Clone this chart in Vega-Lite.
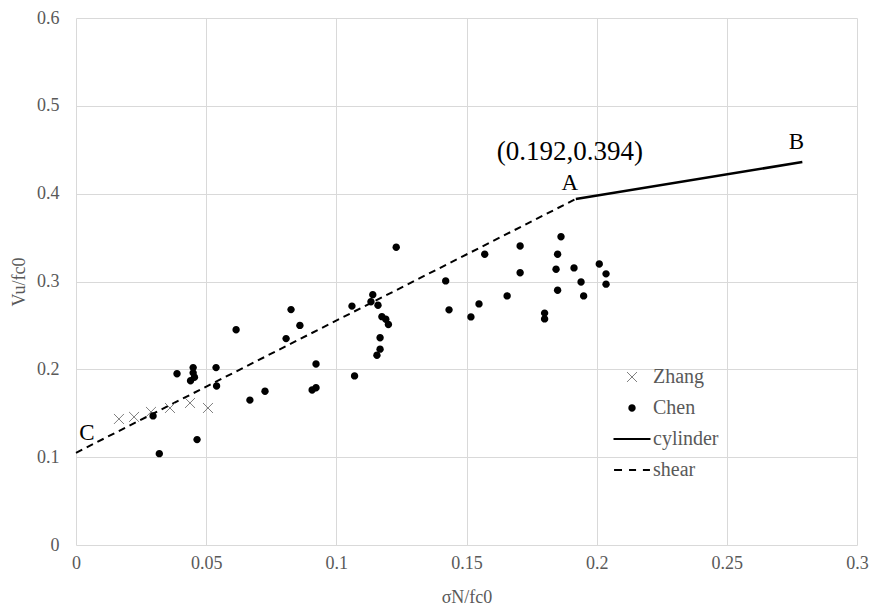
{
  "$schema": "https://vega.github.io/schema/vega-lite/v6.json",
  "width": 781,
  "height": 527,
  "autosize": {"type": "none"},
  "padding": {"left": 76, "top": 18, "right": 19, "bottom": 66},
  "background": "white",
  "config": {"view": {"stroke": null}, "font": "Liberation Serif"},
  "datasets": {
    "pts": [
      {"x": 0.0165, "y": 0.1435, "series": "Zhang"},
      {"x": 0.0223, "y": 0.1458, "series": "Zhang"},
      {"x": 0.0288, "y": 0.1515, "series": "Zhang"},
      {"x": 0.0361, "y": 0.156, "series": "Zhang"},
      {"x": 0.0438, "y": 0.1617, "series": "Zhang"},
      {"x": 0.0507, "y": 0.156, "series": "Zhang"},
      {"x": 0.0615, "y": 0.245, "series": "Chen"},
      {"x": 0.045, "y": 0.202, "series": "Chen"},
      {"x": 0.045, "y": 0.196, "series": "Chen"},
      {"x": 0.0455, "y": 0.191, "series": "Chen"},
      {"x": 0.044, "y": 0.187, "series": "Chen"},
      {"x": 0.0388, "y": 0.195, "series": "Chen"},
      {"x": 0.0538, "y": 0.202, "series": "Chen"},
      {"x": 0.054, "y": 0.181, "series": "Chen"},
      {"x": 0.0668, "y": 0.165, "series": "Chen"},
      {"x": 0.0296, "y": 0.147, "series": "Chen"},
      {"x": 0.0465, "y": 0.12, "series": "Chen"},
      {"x": 0.032, "y": 0.104, "series": "Chen"},
      {"x": 0.123, "y": 0.339, "series": "Chen"},
      {"x": 0.114, "y": 0.285, "series": "Chen"},
      {"x": 0.1133, "y": 0.277, "series": "Chen"},
      {"x": 0.116, "y": 0.273, "series": "Chen"},
      {"x": 0.106, "y": 0.272, "series": "Chen"},
      {"x": 0.1175, "y": 0.26, "series": "Chen"},
      {"x": 0.119, "y": 0.257, "series": "Chen"},
      {"x": 0.12, "y": 0.251, "series": "Chen"},
      {"x": 0.1168, "y": 0.236, "series": "Chen"},
      {"x": 0.1168, "y": 0.223, "series": "Chen"},
      {"x": 0.1156, "y": 0.216, "series": "Chen"},
      {"x": 0.0826, "y": 0.268, "series": "Chen"},
      {"x": 0.086, "y": 0.25, "series": "Chen"},
      {"x": 0.0807, "y": 0.235, "series": "Chen"},
      {"x": 0.0726, "y": 0.175, "series": "Chen"},
      {"x": 0.0922, "y": 0.206, "series": "Chen"},
      {"x": 0.0922, "y": 0.179, "series": "Chen"},
      {"x": 0.0907, "y": 0.1765, "series": "Chen"},
      {"x": 0.107, "y": 0.1925, "series": "Chen"},
      {"x": 0.1863, "y": 0.351, "series": "Chen"},
      {"x": 0.1706, "y": 0.3405, "series": "Chen"},
      {"x": 0.157, "y": 0.331, "series": "Chen"},
      {"x": 0.185, "y": 0.331, "series": "Chen"},
      {"x": 0.142, "y": 0.3007, "series": "Chen"},
      {"x": 0.1706, "y": 0.31, "series": "Chen"},
      {"x": 0.1844, "y": 0.314, "series": "Chen"},
      {"x": 0.1913, "y": 0.3155, "series": "Chen"},
      {"x": 0.201, "y": 0.32, "series": "Chen"},
      {"x": 0.2036, "y": 0.3087, "series": "Chen"},
      {"x": 0.194, "y": 0.2995, "series": "Chen"},
      {"x": 0.2036, "y": 0.297, "series": "Chen"},
      {"x": 0.185, "y": 0.29, "series": "Chen"},
      {"x": 0.195, "y": 0.2836, "series": "Chen"},
      {"x": 0.1656, "y": 0.2836, "series": "Chen"},
      {"x": 0.1433, "y": 0.2677, "series": "Chen"},
      {"x": 0.1548, "y": 0.2745, "series": "Chen"},
      {"x": 0.1517, "y": 0.2597, "series": "Chen"},
      {"x": 0.18, "y": 0.264, "series": "Chen"},
      {"x": 0.18, "y": 0.2574, "series": "Chen"}
    ],
    "shear": [{"x": 0, "y": 0.105}, {"x": 0.192, "y": 0.394}],
    "cylinder": [{"x": 0.192, "y": 0.394}, {"x": 0.279, "y": 0.436}],
    "labels": [
      {"x": 0.192, "y": 0.394, "label": "A"},
      {"x": 0.192, "y": 0.394, "label": "(0.192,0.394)"},
      {"x": 0.279, "y": 0.436, "label": "B"},
      {"x": 0, "y": 0.105, "label": "C"}
    ]
  },
  "encoding": {
    "x": {
      "field": "x",
      "type": "quantitative",
      "scale": {"domain": [0, 0.3], "nice": false, "zero": false},
      "axis": {
        "values": [0, 0.05, 0.1, 0.15, 0.2, 0.25, 0.3],
        "format": "~g",
        "title": "σN/fc0",
        "grid": true,
        "gridColor": "#d9d9d9",
        "domain": false,
        "ticks": false,
        "labelFont": "Liberation Serif",
        "labelFontSize": 18,
        "labelColor": "#595959",
        "labelPadding": 9,
        "labelFlush": false,
        "titleFont": "Liberation Serif",
        "titleFontSize": 18,
        "titleFontWeight": "normal",
        "titleColor": "#595959",
        "titlePadding": 16
      }
    },
    "y": {
      "field": "y",
      "type": "quantitative",
      "scale": {"domain": [0, 0.6], "nice": false, "zero": false},
      "axis": {
        "values": [0, 0.1, 0.2, 0.3, 0.4, 0.5, 0.6],
        "format": "~g",
        "title": "Vu/fc0",
        "grid": true,
        "gridColor": "#d9d9d9",
        "domain": false,
        "ticks": false,
        "labelFont": "Liberation Serif",
        "labelFontSize": 18,
        "labelColor": "#595959",
        "labelPadding": 17,
        "labelFlush": false,
        "titleFont": "Liberation Serif",
        "titleFontSize": 18,
        "titleFontWeight": "normal",
        "titleColor": "#595959",
        "titlePadding": 8
      }
    }
  },
  "layer": [
    {
      "data": {"name": "shear"},
      "mark": {"type": "line", "color": "black", "strokeWidth": 2, "strokeDash": [7, 5]}
    },
    {
      "data": {"name": "cylinder"},
      "mark": {"type": "line", "color": "black", "strokeWidth": 2.5}
    },
    {
      "data": {"name": "pts"},
      "mark": {"type": "point", "opacity": 1, "size": 1369, "strokeWidth": 1},
      "encoding": {
        "shape": {
          "field": "series",
          "type": "nominal",
          "scale": {
            "domain": ["Zhang", "Chen", "cylinder", "shear"],
            "range": [
              "M-0.27,-0.27L0.27,0.27M-0.27,0.27L0.27,-0.27",
              "M-0.2,0A0.2,0.2 0 1,0 0.2,0A0.2,0.2 0 1,0 -0.2,0Z",
              "M-1,-0.06L1,-0.06L1,0.06L-1,0.06Z",
              "M-0.97,-0.055L-0.54,-0.055L-0.54,0.055L-0.97,0.055ZM-0.16,-0.055L0.22,-0.055L0.22,0.055L-0.16,0.055ZM0.59,-0.055L0.97,-0.055L0.97,0.055L0.59,0.055Z"
            ]
          },
          "legend": {
            "title": null,
            "orient": "none",
            "legendX": 537,
            "legendY": 340,
            "padding": 0,
            "symbolSize": 1369,
            "symbolStrokeWidth": 1,
            "labelFont": "Liberation Serif",
            "labelFontSize": 20,
            "labelColor": "#595959",
            "labelOffset": 2,
            "rowPadding": 2,
            "symbolOpacity": 1
          }
        },
        "fill": {
          "field": "series",
          "type": "nominal",
          "scale": {"domain": ["Zhang", "Chen", "cylinder", "shear"], "range": ["transparent", "black", "black", "black"]}
        },
        "stroke": {
          "field": "series",
          "type": "nominal",
          "scale": {"domain": ["Zhang", "Chen", "cylinder", "shear"], "range": ["#7f7f7f", "transparent", "transparent", "transparent"]}
        }
      }
    },
    {
      "data": {"name": "labels"},
      "transform": [{"filter": "datum.label === 'A'"}],
      "mark": {"type": "text", "font": "Liberation Serif", "fontSize": 23, "color": "black", "dx": -6, "dy": -16},
      "encoding": {"text": {"field": "label"}}
    },
    {
      "data": {"name": "labels"},
      "transform": [{"filter": "datum.label === '(0.192,0.394)'"}],
      "mark": {"type": "text", "font": "Liberation Serif", "fontSize": 27, "color": "black", "dx": -6, "dy": -47},
      "encoding": {"text": {"field": "label"}}
    },
    {
      "data": {"name": "labels"},
      "transform": [{"filter": "datum.label === 'B'"}],
      "mark": {"type": "text", "font": "Liberation Serif", "fontSize": 23, "color": "black", "dx": -6, "dy": -20},
      "encoding": {"text": {"field": "label"}}
    },
    {
      "data": {"name": "labels"},
      "transform": [{"filter": "datum.label === 'C'"}],
      "mark": {"type": "text", "font": "Liberation Serif", "fontSize": 23, "color": "black", "dx": 11, "dy": -20},
      "encoding": {"text": {"field": "label"}}
    }
  ]
}
